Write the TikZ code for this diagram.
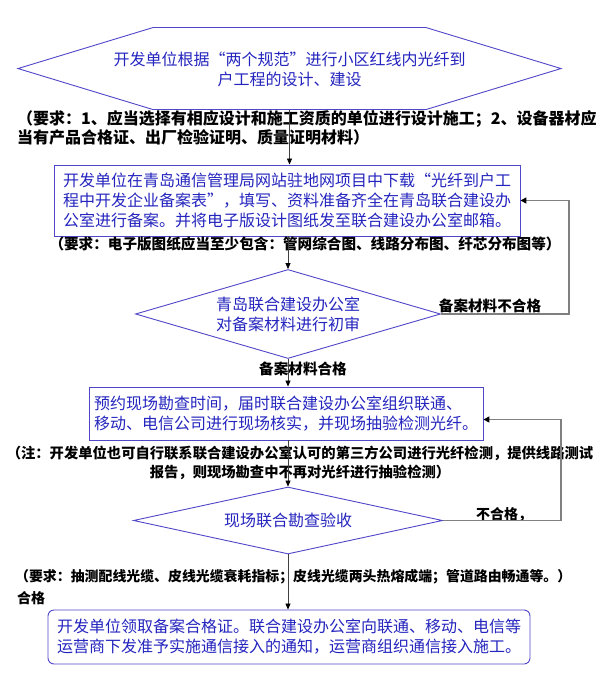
\documentclass[tikz,border=0pt]{standalone}
\usepackage{fontspec}
\usepackage{tikz}
\usetikzlibrary{arrows.meta,calc,shapes.geometric}
\newfontfamily\cjk{Noto Sans CJK SC}
\definecolor{flowtext}{RGB}{36,36,190}
\definecolor{flowline}{RGB}{80,70,200}
\definecolor{loopgray}{RGB}{128,128,128}
\tikzset{
  stepbox/.style={draw=flowline,line width=0.9pt,text=flowtext,inner sep=0pt,align=left,
    font=\cjk\fontsize{16}{20}\selectfont},
  checkdia/.style={diamond,draw=flowline,line width=0.9pt,text=flowtext,inner sep=0pt,align=center,
    font=\cjk\fontsize{16}{20}\selectfont},
  notetext/.style={inner sep=0pt,align=left,font=\cjk\bfseries\fontsize{#1}{19}\selectfont},
  flowarrow/.style={draw=black!75,line width=0.8pt,-{Triangle[length=6pt,width=5pt,color=black]}},
  looparrow/.style={draw=loopgray,line width=1.5pt,-{Triangle[length=6pt,width=6pt,color=black]}}
}

\begin{document}
\begin{tikzpicture}[x=1pt,y=-1pt]
  \useasboundingbox (0,0) rectangle (609,698);
  \def\cx{288} % axis of the main flow
  % --- start: hexagon ---
  \node[stepbox,draw=none,minimum height=82,align=center] (plan) at (289.5,69)
    {开发单位根据“两个规范”进行小区红线内光纤到\\户工程的设计、建设};
  \draw[flowline,line width=0.9pt] ([xshift=-136.5pt]plan.north) -- ++(273,0) -- ++(135,41)
    -- ++(-135,41) -- ++(-273,0) -- ++(-135,-41) -- cycle;
  \node[notetext=16,anchor=west] (needA) at (17,128)
    {（要求：1、应当选择有相应设计和施工资质的单位进行设计施工；2、设备器材应\\当有产品合格证、出厂检验证明、质量证明材料）};
  % --- filing ---
  \node[stepbox,minimum width=466,minimum height=71] (filing) at (287,200.5)
    {开发单位在青岛通信管理局网站驻地网项目中下载“光纤到户工\\程中开发企业备案表”，填写、资料准备齐全在青岛联合建设办\\公室进行备案。并将电子版设计图纸发至联合建设办公室邮箱。};
  \node[notetext=14.6] (needB) at (305,244)
    {（要求：电子版图纸应当至少包含：管网综合图、线路分布图、纤芯分布图等）};
  % --- first check ---
  \node[checkdia,aspect=3.4,minimum width=305,minimum height=89] (review) at (\cx,314)
    {青岛联合建设办公室\\对备案材料进行初审};
  \node[notetext=14.6] (failA) at (490,306) {备案材料不合格};
  \node[notetext=14.6] (passA) at (303,369) {备案材料合格};
  % --- site survey ---
  \node[stepbox,minimum width=394,minimum height=53] (survey) at (286,413.5)
    {预约现场勘查时间，届时联合建设办公室组织联通、\\移动、电信公司进行现场核实，并现场抽验检测光纤。};
  \node[notetext=14.3,align=center] (noteC) at (300,463)
    {（注：开发单位也可自行联系联合建设办公室认可的第三方公司进行光纤检测，提供线路测试\\报告，则现场勘查中不再对光纤进行抽验检测）};
  % --- acceptance ---
  \node[checkdia,aspect=4.6,minimum width=309,minimum height=67] (accept) at (\cx,520.5) {现场联合勘查验收};
  \node[notetext=14] (failB) at (504,515) {不合格，};
  \node[notetext=13.9,anchor=west] (needD) at (15,577)
    {（要求：抽测配线光缆、皮线光缆衰耗指标；皮线光缆两头热熔成端；管道路由畅通等。）};
  \node[notetext=14,anchor=west] (passB) at (17,598) {合格};
  % --- end ---
  \node[stepbox,rounded corners=6pt,minimum width=482,minimum height=54] (permit) at (289,637)
    {开发单位领取备案合格证。联合建设办公室向联通、移动、电信等\\运营商下发准予实施通信接入的通知，运营商组织通信接入施工。};
  % --- connectors ---
  \draw[flowarrow] (plan.south) -- (plan.south |- filing.north);
  \draw[flowarrow] (review.north |- filing.south) -- (review.north);
  \draw[flowarrow] (review.south) -- (review.south |- survey.north);
  \draw[flowarrow] (accept.north |- survey.south) -- (accept.north);
  \draw[flowarrow] (accept.south) -- (accept.south |- permit.north);
  \draw[looparrow] (review.east) -- ++(128,0) |- (filing.east);
  \draw[looparrow] (accept.east) -- ++(118,0) |- ($(survey.east)+(0,6)$);
\end{tikzpicture}
\end{document}
